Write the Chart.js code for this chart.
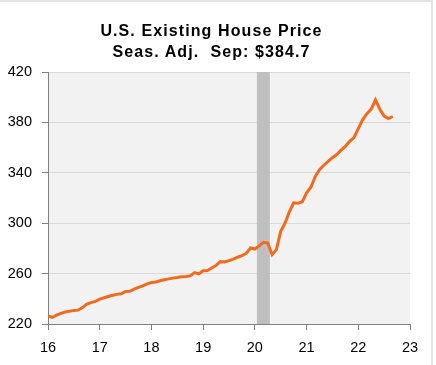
<!DOCTYPE html>
<html>
<head>
<meta charset="utf-8">
<script src="https://cdn.jsdelivr.net/npm/chart.js@4"></script>
<style>
  html, body { margin: 0; padding: 0; background: #fff; }
  #wrap { position: relative; width: 436px; height: 365px; overflow: hidden; }
  #frame { position: absolute; left: -2px; top: 0; width: 435px; height: 370px;
           border-top: 2px solid #e4e4e4; border-right: 2px solid #e4e4e4; box-sizing: border-box; }
  #title { position: absolute; left: 0; top: 21px; width: 423px; text-align: center;
           font: bold 16px "Liberation Sans", Arial, sans-serif; line-height: 20.5px;
           letter-spacing: 1.1px; color: #000; white-space: pre; }
  canvas { position: absolute; left: 0; top: 0; }
</style>
</head>
<body>
<div id="wrap">
  <canvas id="chart" width="436" height="365"></canvas>
  <div id="frame"></div>
  <div id="title">U.S. Existing House Price
Seas. Adj.  Sep: $384.7</div>
</div>
<script>
// monthly, Jan 2016 - Sep 2022, thousands of dollars
const startYear = 16;
const prices = [
  226.4, 225.3, 227.0, 228.5, 229.5, 230.2, 230.8, 231.0, 233.0, 235.8, 237.0, 238.0, // 2016
  239.7, 240.8, 241.8, 242.8, 243.5, 244.0, 245.8, 246.0, 247.6, 249.0, 250.3, 251.9, // 2017
  252.9, 253.3, 254.3, 255.1, 255.8, 256.4, 256.9, 257.5, 257.7, 258.2, 260.8, 259.8, // 2018
  262.2, 262.5, 264.4, 266.5, 269.5, 269.3, 270.3, 271.5, 273.0, 274.2, 276.0, 280.3, // 2019
  279.5, 282.0, 284.8, 284.3, 275.0, 279.0, 293.5, 300.0, 309.0, 316.2, 315.8, 317.0, // 2020
  324.1, 328.5, 337.0, 342.5, 346.0, 349.0, 352.0, 354.5, 358.0, 361.0, 365.0, 368.0, // 2021
  375.0, 382.0, 387.0, 390.5, 397.9, 390.5, 385.0, 383.0, 384.7                        // 2022
];
const yearLabels = ['16', '17', '18', '19', '20', '21', '22', '23'];
const yTicks = [220, 260, 300, 340, 380, 420];
const recession = [20.04, 20.29]; // shaded band, in axis years

const points = prices.map((v, i) => ({ x: startYear + i / 12, y: v }));

// Plot background and recession band
const shading = {
  id: 'shading',
  beforeDraw(chart) {
    const { ctx, chartArea: a } = chart;
    ctx.save();
    ctx.fillStyle = '#f2f2f2';
    ctx.fillRect(a.left, a.top, a.right - a.left, a.bottom - a.top);
    ctx.restore();
  },
  beforeDatasetsDraw(chart) {
    const { ctx, chartArea: a, scales } = chart;
    const x0 = scales.x.getPixelForValue(recession[0]);
    const x1 = scales.x.getPixelForValue(recession[1]);
    ctx.save();
    ctx.fillStyle = '#bfbfbf';
    ctx.fillRect(x0, a.top, x1 - x0, a.bottom - a.top);
    ctx.restore();
  }
};

const font = { family: '"Liberation Sans", Arial, sans-serif', size: 14.5 };

new Chart(document.getElementById('chart'), {
  type: 'line',
  data: {
    datasets: [{
      data: points,
      borderColor: '#f26b1d',
      borderWidth: 3,
      pointRadius: 0,
      tension: 0,
      fill: false
    }]
  },
  options: {
    responsive: false,
    animation: false,
    layout: { padding: { top: 72, right: 26, left: 0, bottom: 0 } },
    plugins: {
      legend: { display: false },
      title: { display: false },
      tooltip: { enabled: false }
    },
    scales: {
      x: {
        type: 'linear',
        min: 16,
        max: 23,
        afterFit(scale) { scale.height = 41; },
        afterBuildTicks(scale) {
          scale.ticks = yearLabels.map((l, i) => ({ value: startYear + i }));
        },
        ticks: {
          color: '#000',
          font,
          padding: 9,
          maxRotation: 0,
          callback: (v, i) => yearLabels[i]
        },
        grid: { drawOnChartArea: false, tickLength: 6, color: '#808080' },
        border: { color: '#808080', width: 1 }
      },
      y: {
        min: 220,
        max: 420,
        afterFit(scale) { scale.width = 48; },
        afterBuildTicks(scale) {
          scale.ticks = yTicks.map(v => ({ value: v }));
        },
        ticks: { color: '#000', font, padding: 10 },
        grid: { color: '#d9d9d9', tickColor: '#808080', tickLength: 6 },
        border: { color: '#808080', width: 1 }
      }
    }
  },
  plugins: [shading]
});
</script>
</body>
</html>
